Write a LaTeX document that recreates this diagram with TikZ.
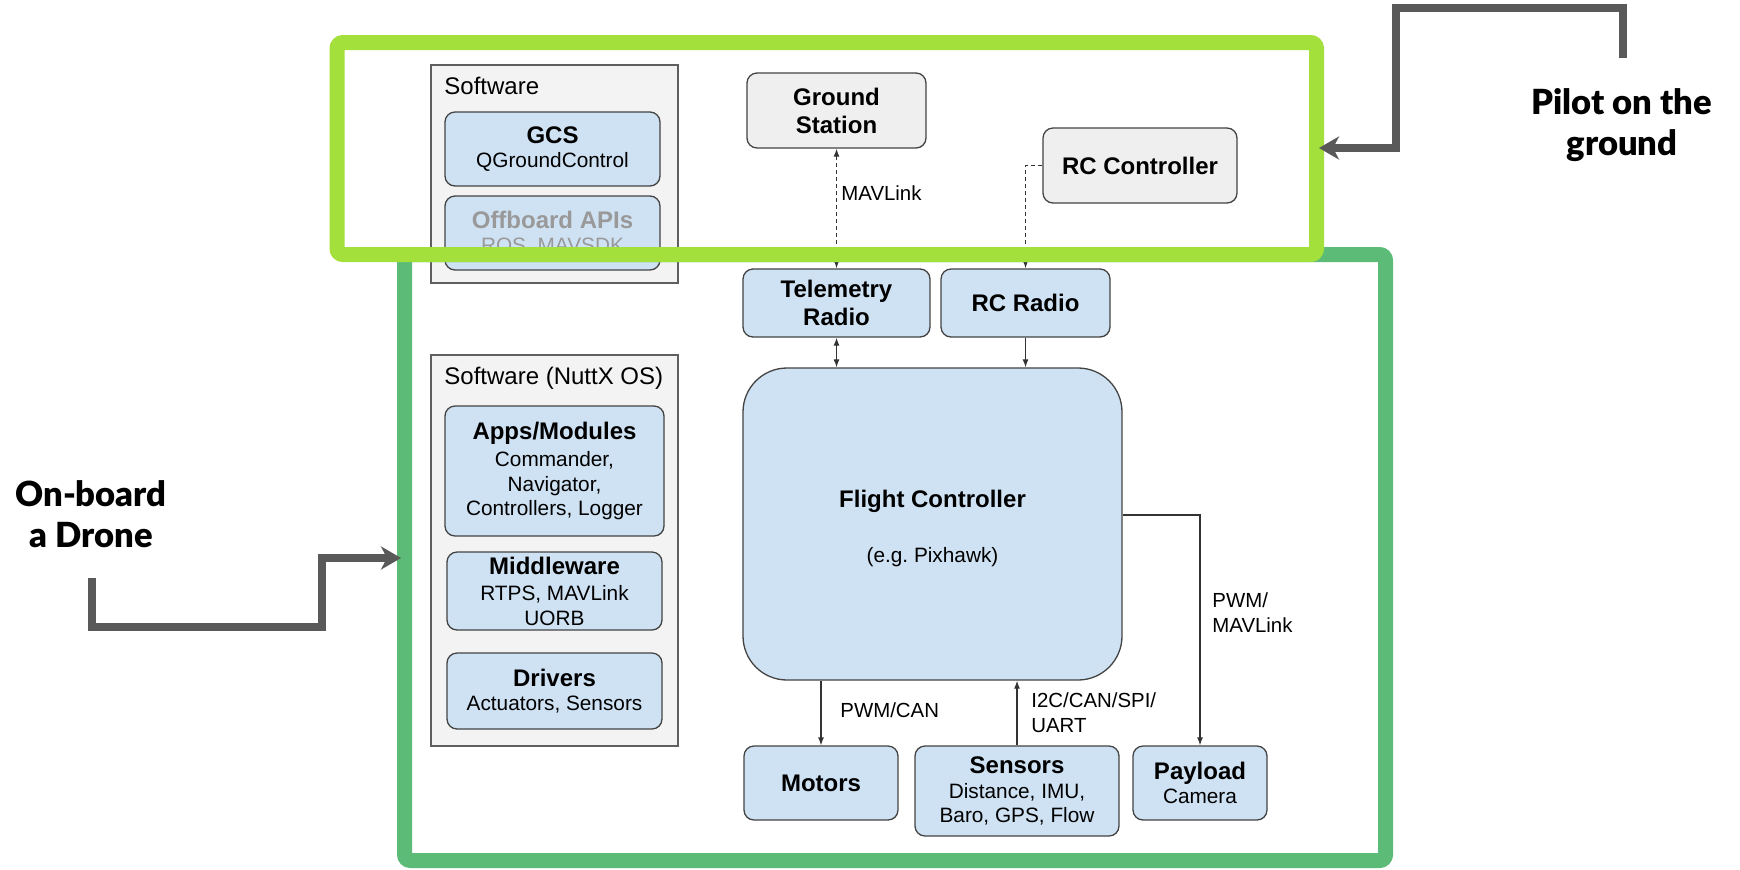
\documentclass[tikz,border=0pt]{standalone}
\usepackage{fontspec}
\setmainfont{Liberation Sans}
\IfFontExistsTF{Lato Black}{\newfontfamily\heavyfont{Lato Black}}{\newfontfamily\heavyfont{Liberation Sans Bold}}
\usetikzlibrary{arrows.meta}
\frenchspacing
\definecolor{boxblue}{HTML}{CFE2F3}
\definecolor{boxgray}{HTML}{EFEFEF}
\definecolor{contgray}{HTML}{F3F3F3}
\definecolor{edgecol}{HTML}{434343}
\definecolor{arrowgray}{HTML}{595959}
\definecolor{fadetext}{HTML}{999999}
\definecolor{greenframe}{HTML}{5BBB77}
\definecolor{limeframe}{HTML}{A4E03B}
\newcommand{\ttl}[1]{{\fontsize{12}{14}\selectfont\bfseries #1}}
\tikzset{
  bbox/.style={draw=edgecol, line width=0.65pt, fill=boxblue, rounded corners=5pt, align=center, inner sep=0pt, font=\fontsize{10.4}{12.2}\selectfont},
  gbox/.style={bbox, fill=boxgray},
  cont/.style={draw=edgecol!85, fill=contgray, line width=0.6pt, inner sep=0pt},
  conn/.style={draw=black!80, line width=0.6pt},
  tipa/.tip={Latex[length=4pt,width=3pt]},
  lbl/.style={font=\fontsize{10.2}{12.5}\selectfont, inner sep=0pt, align=left},
  contlbl/.style={font=\fontsize{12}{14}\selectfont, inner sep=0pt},
  biglbl/.style={font=\heavyfont\fontsize{17.3}{20.5}\selectfont, inner sep=0pt, align=center},
  bigarrow/.style={draw=arrowgray, line width=3.8pt, -{Stealth[length=10pt,width=11.5pt,inset=3pt]}},
}
\begin{document}
\begin{tikzpicture}[x=0.5pt,y=-0.5pt]
\fill[white] (0,0) rectangle (1740,869);
\useasboundingbox (0,0) rectangle (1740,869);

% containers
\node[cont, minimum width=123.5pt, minimum height=109pt] (sw1) at (554.5,174) {};
\node[contlbl, anchor=base west] (sw1lbl) at (444,94) {Software};
\node[bbox, minimum width=107.5pt, minimum height=37pt] (gcs) at (552.5,149) {\ttl{GCS}\\QGroundControl};
\node[bbox, minimum width=107.5pt, minimum height=37pt, text=fadetext] (offb) at (552.5,233) {\ttl{Offboard APIs}\\ROS, MAVSDK};

\node[cont, minimum width=123.5pt, minimum height=195.5pt] (sw2) at (554.5,550.5) {};
\node[contlbl, anchor=base west] (sw2lbl) at (444,384) {Software (NuttX OS)};
\node[bbox, minimum width=109.5pt, minimum height=65pt] (apps) at (554.5,471) {\ttl{Apps/Modules}\\[1.5pt]Commander,\\Navigator,\\Controllers, Logger};
\node[bbox, minimum width=107.5pt, minimum height=39pt] (mid) at (554.5,591) {\ttl{Middleware}\\[1pt]RTPS, MAVLink\\UORB};
\node[bbox, minimum width=107.5pt, minimum height=38pt] (drv) at (554.5,691) {\ttl{Drivers}\\Actuators, Sensors};

% hardware boxes
\node[gbox, minimum width=89.5pt, minimum height=37.5pt, font=\fontsize{12}{14}\selectfont\bfseries] (gs) at (836.5,110.5) {Ground\\Station};
\node[gbox, minimum width=97pt, minimum height=37.5pt, font=\fontsize{12}{14}\selectfont\bfseries] (rcc) at (1140,165.5) {RC Controller};
\node[bbox, minimum width=93.5pt, minimum height=34pt, font=\fontsize{12}{14}\selectfont\bfseries] (tel) at (836.5,303) {Telemetry\\Radio};
\node[bbox, minimum width=84.5pt, minimum height=34pt, font=\fontsize{12}{14}\selectfont\bfseries] (rcr) at (1025.5,303) {RC Radio};
\node[bbox, rounded corners=22pt, minimum width=189.5pt, minimum height=156pt] (fc) at (932.5,524) {};
\node[inner sep=0pt, align=center, font=\fontsize{10.4}{12.5}\selectfont] (fctext) at (932.5,528) {\ttl{Flight Controller}\\[15pt](e.g. Pixhawk)};
\node[bbox, minimum width=77pt, minimum height=37pt, font=\fontsize{12}{14}\selectfont\bfseries] (mot) at (821,783) {Motors};
\node[bbox, minimum width=102pt, minimum height=45pt] (sen) at (1017,791) {\ttl{Sensors}\\Distance, IMU,\\Baro, GPS, Flow};
\node[bbox, minimum width=67pt, minimum height=37pt] (pay) at (1200,783) {\ttl{Payload}\\Camera};

% connectors
\draw[conn, dashed, dash pattern=on 2pt off 1.5pt, tipa-tipa] (gs.south) -- (tel.north);
\draw[conn, dashed, dash pattern=on 2pt off 1.5pt, -tipa] (rcc.west) -| (rcr.north);
\draw[conn, tipa-tipa] (tel.south) -- (tel.south |- fc.north);
\draw[conn, -tipa] (rcr.south) -- (rcr.south |- fc.north);
\draw[conn, -tipa] (mot.north |- fc.south) -- (mot.north);
\draw[conn, -tipa] (sen.north) -- (sen.north |- fc.south);
\coordinate (pwmstart) at ([yshift=4.5pt]fc.east);
\draw[conn, -tipa] (pwmstart) -| (pay.north);

% connector labels
\node[lbl, anchor=base west] (lmav) at (841,200) {MAVLink};
\node[lbl, anchor=base west] (lpwmcan) at (840,717) {PWM/CAN};
\node[lbl, anchor=north west] (lbus) at (1031,692) {I2C/CAN/SPI/\\UART};
\node[lbl, anchor=north west] (lpwmmav) at (1212,592) {PWM/\\MAVLink};

% frames
\draw[greenframe, line width=7.5pt, rounded corners=3pt] (404.5,254.5) rectangle (1385.5,860.5);
\draw[limeframe, line width=7.5pt, rounded corners=3pt] (337,42.5) rectangle (1316.5,254.5);

% outer labels and arrows
\node[biglbl, anchor=north] (onboard) at (91,480) {On-board\\a Drone};
\node[biglbl, anchor=north] (pilot) at (1622,88) {Pilot on the\\ground};
\coordinate (dronestart) at (92,578);
\coordinate (dronetip) at (401,558);
\coordinate (pilotstart) at (1623,58);
\coordinate (pilottip) at (1319,148);
\draw[bigarrow] (dronestart) |- (322,627) |- (dronetip);
\draw[bigarrow] (pilotstart) |- (1396,8) |- (pilottip);
\end{tikzpicture}
\end{document}
